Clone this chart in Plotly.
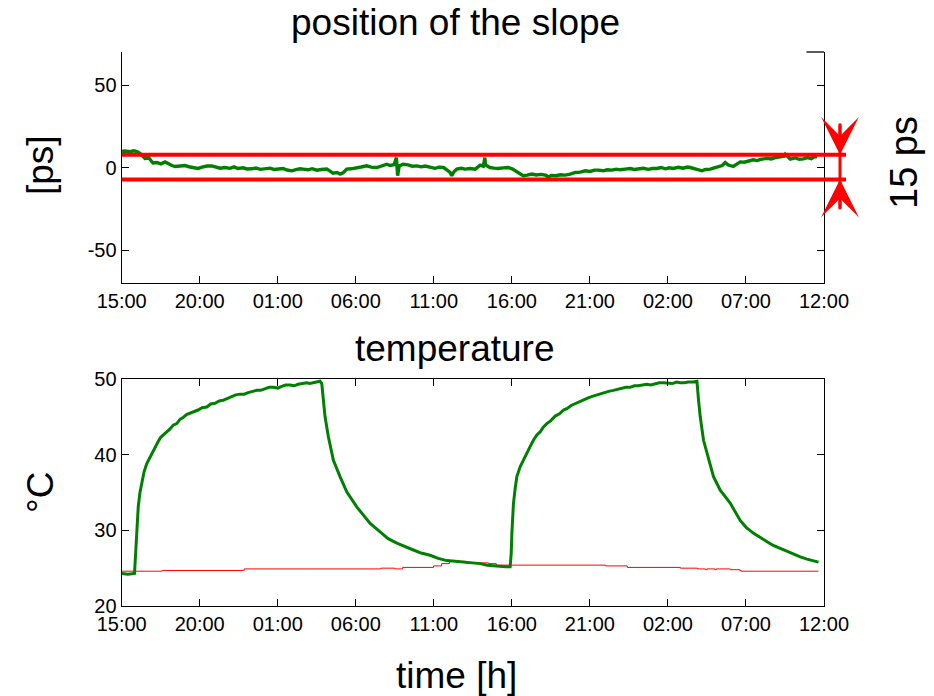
import plotly.graph_objects as go

# ---------------- data ----------------
tick_hours = [0, 5, 10, 15, 20, 25, 30, 35, 40, 45]
tick_labels = ["15:00", "20:00", "01:00", "06:00", "11:00", "16:00", "21:00", "02:00", "07:00", "12:00"]
ps_ticks = [-50, 0, 50]
ps_tick_labels = ["-50", "0", "50"]
degc_ticks = [20, 30, 40, 50]

# position of the slope [ps] vs hours since 15:00
slope_h = [0.0, 0.21, 0.53, 0.79, 1.04, 1.24, 1.49, 1.69, 1.81, 2.0, 2.26, 2.52, 2.78, 3.03, 3.22, 3.42,
           3.74, 4.06, 4.38, 4.63, 4.89, 5.15, 5.47, 5.77, 6.04, 6.3, 6.62, 6.94, 7.2, 7.45, 7.78, 8.03,
           8.33, 8.6, 8.87, 9.19, 9.5, 9.76, 10.02, 10.34, 10.6, 10.9, 11.17, 11.43, 11.62, 11.94, 12.2,
           12.5, 12.78, 13.14, 13.35, 13.54, 13.8, 13.99, 14.19, 14.42, 14.7, 15.06, 15.34, 15.7, 15.98,
           16.35, 16.62, 16.99, 17.2, 17.46, 17.6, 17.64, 17.68, 17.78, 18.03, 18.35, 18.61, 18.91, 19.19,
           19.44, 19.76, 20.08, 20.34, 20.62, 20.85, 21.04, 21.15, 21.3, 21.47, 21.75, 22.0, 22.33, 22.65,
           22.84, 22.97, 23.17, 23.27, 23.31, 23.38, 23.6, 23.86, 24.12, 24.44, 24.76, 25.02, 25.21, 25.47,
           25.72, 25.98, 26.28, 26.56, 26.88, 27.2, 27.33, 27.52, 27.84, 28.1, 28.42, 28.74, 29.06, 29.38,
           29.7, 30.02, 30.28, 30.53, 30.85, 31.11, 31.41, 31.69, 31.94, 32.26, 32.58, 32.84, 33.1, 33.42,
           33.74, 34.0, 34.29, 34.57, 34.83, 35.08, 35.34, 35.66, 35.98, 36.24, 36.43, 36.69, 36.94, 37.18,
           37.4, 37.72, 37.97, 38.24, 38.48, 38.67, 38.87, 39.19, 39.38, 39.63, 39.89, 40.14, 40.47, 40.72,
           40.98, 41.35, 41.62, 41.88, 42.2, 42.46, 42.52, 42.65, 42.84, 43.16, 43.42, 43.68, 43.94, 44.19,
           44.44, 44.57]
slope_ps = [9.7, 10.0, 9.6, 10.1, 9.4, 8.0, 5.5, 6.4, 5.0, 2.7, 3.0, 2.2, 3.4, 2.0, 1.2, 0.6,
            0.9, 1.2, 0.3, -0.3, -0.6, 0.2, 0.9, 1.0, 0.2, -0.4, 0.0, -0.5, 0.4, -0.6, -0.2, -0.9,
            -0.8, -0.3, -1.1, -1.0, -0.4, -1.2, -1.0, -0.6, -1.5, -2.0, -1.3, -0.8, -1.0, -1.4, -0.7,
            -1.6, -1.2, -0.9, -2.2, -3.4, -3.0, -4.0, -3.2, -1.0, -0.8, -0.4, 0.3, 1.0, 0.2,
            0.0, 1.0, 2.0, 1.2, 1.8, 6.0, 1.0, -5.0, 1.0, 2.0, 1.6, 0.8, 1.0, 0.4,
            0.9, 0.0, -0.5, 0.2, 0.0, -1.5, -3.0, -5.0, -2.4, -1.0, -0.5, -1.0, -0.6, -1.0,
            0.2, 1.4, 0.8, 6.0, 1.5, 1.0, 0.0, -0.4, -0.6, -0.2, 0.0, -0.8, -2.0, -3.5,
            -5.0, -4.6, -4.0, -4.5, -4.2, -4.8, -6.0, -4.8, -5.0, -4.4, -4.6, -4.0, -3.0, -2.8,
            -2.0, -2.4, -1.6, -1.6, -2.0, -1.4, -1.6, -1.0, -1.4, -1.0, -0.6, -1.2, -1.0, -0.5,
            -1.1, -0.6, -0.6, 0.0, -0.8, -0.2, -0.6, 0.1, -0.4, 0.3, 0.0, -0.8, -1.6, -2.0,
            -1.2, -1.0, -0.2, 0.5, 1.2, 3.0, 1.5, 0.6, 1.8, 3.4, 3.2, 4.0, 4.7, 4.2,
            5.0, 5.5, 5.2, 6.0, 6.5, 6.8, 8.0, 7.0, 5.1, 5.8, 5.0, 5.2, 6.0, 5.4,
            6.9, 6.5]

band_upper = 7.7
band_lower = -7.3
band_label = "15 ps"

# temperature [°C] vs hours since 15:00
temp_h = [0.0, 0.4, 0.82, 0.92, 0.96, 1.06, 1.17, 1.28, 1.43, 1.6, 1.81, 2.03, 2.2, 2.33, 2.5, 2.67,
          2.9, 3.1, 3.3, 3.53, 3.75, 3.93, 4.15, 4.38, 4.6, 4.89, 5.15, 5.45, 5.7, 5.98, 6.25, 6.51,
          6.75, 7.0, 7.3, 7.58, 7.85, 8.1, 8.4, 8.65, 8.9, 9.19, 9.45, 9.72, 10.0, 10.21, 10.5, 10.79,
          11.05, 11.3, 11.6, 11.86, 12.05, 12.26, 12.5, 12.71, 12.82, 12.9, 13.03, 13.24, 13.56, 13.99,
          14.42, 15.06, 15.92, 16.56, 17.07, 17.63, 18.16, 18.69, 19.19, 19.76, 20.28, 20.83, 21.37,
          21.9, 22.46, 22.97, 23.42, 23.82, 24.25, 24.6, 24.89, 24.96, 25.0, 25.1, 25.21, 25.32, 25.53,
          25.74, 26.04, 26.2, 26.38, 26.6, 26.81, 27.0, 27.24, 27.5, 27.78, 28.05, 28.31, 28.55, 28.8,
          29.1, 29.38, 29.6, 29.89, 30.15, 30.45, 30.7, 30.98, 31.25, 31.51, 31.75, 32.01, 32.3, 32.58,
          32.85, 33.1, 33.4, 33.65, 33.9, 34.19, 34.45, 34.72, 35.0, 35.28, 35.55, 35.79, 36.05, 36.3,
          36.6, 36.86, 36.96, 37.07, 37.28, 37.6, 37.92, 38.35, 38.99, 39.63, 40.01, 40.49, 40.92,
          41.35, 41.75, 42.19, 42.64, 43.05, 43.48, 43.91, 44.25, 44.65]
temp_green = [24.3, 24.2, 24.3, 28.0, 29.1, 33.1, 35.0, 36.2, 37.7, 38.8, 39.7, 40.6, 41.3, 41.7, 42.3, 42.6,
              43.1, 43.4, 43.9, 44.1, 44.7, 44.9, 45.3, 45.5, 45.6, 45.9, 46.2, 46.3, 46.7, 46.8, 47.1, 47.2,
              47.4, 47.6, 47.9, 48.0, 48.0, 48.2, 48.4, 48.5, 48.5, 48.7, 48.9, 48.9, 48.8, 49.0, 49.2, 49.2,
              49.1, 49.3, 49.4, 49.5, 49.4, 49.5, 49.6, 49.7, 49.4, 47.5, 45.0, 42.4, 39.3, 37.1,
              35.1, 33.1, 30.9, 29.8, 28.9, 28.3, 27.8, 27.4, 27.0, 26.7, 26.3, 26.0, 25.9,
              25.8, 25.7, 25.6, 25.4, 25.3, 25.2, 25.2, 25.2, 27.0, 29.6, 33.5, 35.5, 37.1, 38.4,
              39.3, 40.7, 41.2, 41.9, 42.6, 43.0, 43.6, 44.1, 44.5, 45.1, 45.4, 45.9, 46.1, 46.5,
              46.8, 47.0, 47.3, 47.5, 47.7, 47.9, 48.1, 48.2, 48.4, 48.5, 48.6, 48.7, 48.9, 48.9,
              49.1, 49.1, 49.2, 49.3, 49.2, 49.4, 49.5, 49.5, 49.4, 49.4, 49.6, 49.5, 49.5, 49.6,
              49.6, 49.7, 47.2, 45.0, 41.9, 39.3, 37.1, 35.3, 33.6, 31.3, 30.4, 29.6, 29.0,
              28.5, 28.0, 27.6, 27.2, 26.9, 26.5, 26.2, 26.0, 25.8]

ambient_h = [0.0, 2.55, 2.6, 7.8, 7.85, 12.0, 16.6, 17.5, 18.0, 19.98, 20.5, 21.0, 21.6, 22.0, 23.5,
             24.0, 24.9, 30.9, 31.0, 32.4, 35.8, 36.9, 37.4, 37.5, 38.0, 38.1, 39.0, 39.6, 39.7, 44.65]
ambient_c = [24.6, 24.6, 24.7, 24.7, 24.9, 24.9, 25.0, 24.9, 25.1, 25.3, 25.6, 26.0, 25.9, 25.7, 25.6,
             25.4, 25.4, 25.4, 25.3, 25.1, 25.0, 24.9, 24.8, 24.9, 24.8, 24.9, 24.8, 24.7, 24.6, 24.6]

# ---------------- figure ----------------
FONT = "Liberation Sans, Arial, sans-serif"
GREEN = "#008000"
RED = "#ff0000"
W, H = 934, 696

x_dom = [121.7 / W, 824.0 / W]
top_dom = [(H - 283.0) / H, (H - 52.0) / H]
bot_dom = [(H - 606.0) / H, (H - 379.0) / H]

fig = go.Figure()
fig.add_trace(go.Scatter(x=slope_h, y=slope_ps, mode="lines",
                         line=dict(color=GREEN, width=3.4), xaxis="x", yaxis="y",
                         showlegend=False, hoverinfo="skip"))
fig.add_trace(go.Scatter(x=ambient_h, y=ambient_c, mode="lines", line_shape="hv",
                         line=dict(color=RED, width=1), xaxis="x2", yaxis="y2",
                         showlegend=False, hoverinfo="skip"))
fig.add_trace(go.Scatter(x=temp_h, y=temp_green, mode="lines",
                         line=dict(color=GREEN, width=3), xaxis="x2", yaxis="y2",
                         showlegend=False, hoverinfo="skip"))

tickfont = dict(family=FONT, size=20, color="black")
common_x = dict(range=[0, 45], tickmode="array", tickvals=tick_hours, ticktext=tick_labels,
                ticks="inside", ticklen=7, tickwidth=1.2, tickcolor="black",
                showline=True, linecolor="black", linewidth=1.3, automargin=False,
                showgrid=False, zeroline=False, tickfont=tickfont, domain=x_dom)

fig.update_layout(
    width=W, height=H, margin=dict(l=0, r=0, t=0, b=0, pad=0, autoexpand=False),
    paper_bgcolor="white", plot_bgcolor="white",
    xaxis=dict(common_x, anchor="y", mirror=False),
    xaxis3=dict(range=[0, 45], tickmode="array", tickvals=tick_hours, ticks="inside", ticklen=6,
                tickwidth=1.2, tickcolor="black", showticklabels=False, showline=False,
                showgrid=False, zeroline=False, overlaying="x", side="top", anchor="y",
                automargin=False),
    yaxis=dict(range=[-70, 70], tickmode="array", tickvals=ps_ticks, ticktext=ps_tick_labels,
               ticks="inside", ticklen=7, tickwidth=1.2, tickcolor="black",
               showline=True, linecolor="black", linewidth=1.3, mirror="ticks", automargin=False,
               showgrid=False, zeroline=False, tickfont=tickfont, domain=top_dom, anchor="x"),
    xaxis2=dict(common_x, anchor="y2", mirror="ticks"),
    yaxis2=dict(range=[20, 50], tickmode="array", tickvals=degc_ticks,
                ticks="inside", ticklen=7, tickwidth=1.2, tickcolor="black",
                showline=True, linecolor="black", linewidth=1.3, mirror="ticks", automargin=False,
                showgrid=False, zeroline=False, tickfont=tickfont, domain=bot_dom, anchor="x2"),
)

# the +/- band lines (extend a bit past the right axis)
for yv in (band_upper, band_lower):
    fig.add_shape(type="line", xref="paper", yref="y", x0=121.7 / W, x1=846.0 / W, y0=yv, y1=yv,
                  line=dict(color=RED, width=4))
# short top border piece at the right of the upper panel
fig.add_shape(type="line", xref="x domain", yref="y domain", x0=0.975, x1=1.0, y0=1, y1=1,
              line=dict(color="black", width=1.3))

# double arrow indicating the band width
arrow_x = 840.0 / W
fig.add_shape(type="line", xref="paper", yref="y", x0=arrow_x, x1=arrow_x,
              y0=band_upper + 19, y1=band_lower - 18, line=dict(color=RED, width=3))
for yv, ay in ((band_upper, -31), (band_lower, 30)):
    fig.add_annotation(xref="paper", yref="y", x=arrow_x, y=yv, ax=0, ay=ay,
                       axref="pixel", ayref="pixel", text="", showarrow=True,
                       arrowhead=3, arrowsize=2.1, arrowwidth=3, arrowcolor=RED)

big = dict(family=FONT, size=37, color="black")
texts = [
    ("position of the slope", 455, 22, 0, 37),
    ("temperature", 455, 348, 0, 37),
    ("[ps]", 41, 165, -90, 37),
    ("°C", 40, 492, -90, 37),
    ("time [h]", 456, 675, 0, 37),
    (band_label, 904, 163, -90, 38),
]
for t, px, py, ang, fs in texts:
    fig.add_annotation(xref="paper", yref="paper", x=px / W, y=1 - py / H, text=t,
                       showarrow=False, textangle=ang, font=dict(big, size=fs),
                       xanchor="center", yanchor="middle")

fig.write_html("out.html", config={"displayModeBar": False},
               post_script="document.body.style.margin='0px';document.body.style.overflow='hidden';")
